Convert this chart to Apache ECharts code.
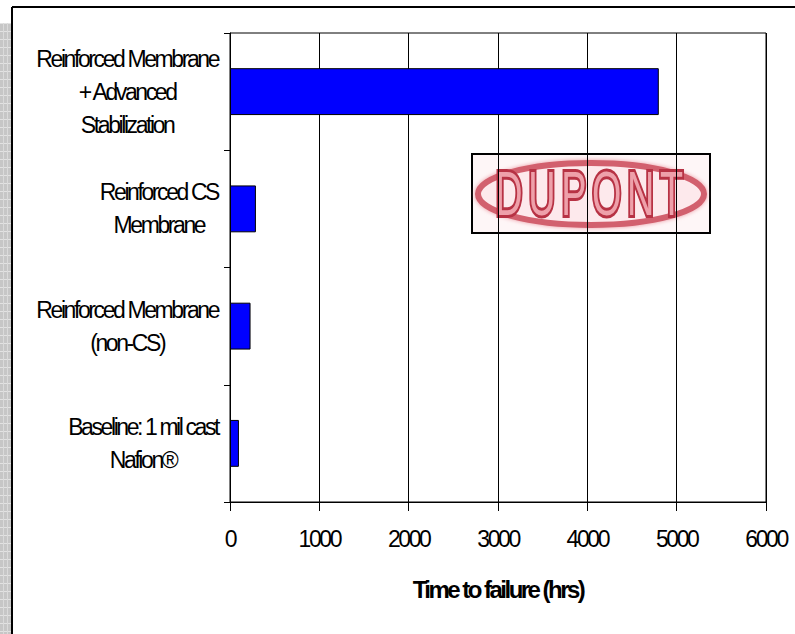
<!DOCTYPE html>
<html>
<head>
<meta charset="utf-8">
<script src="https://cdn.jsdelivr.net/npm/echarts@6/dist/echarts.min.js"></script>
<style>
  html, body { margin: 0; padding: 0; background: #fff; }
  #chart { width: 795px; height: 634px; }
</style>
</head>
<body>
<div id="chart"></div>
<script>
// Membrane durability: time to failure per membrane type (bottom to top)
const categories = [
  'Baseline: 1 mil cast\nNafion®',
  'Reinforced Membrane\n(non-CS)',
  'Reinforced CS\nMembrane',
  'Reinforced Membrane\n+ Advanced\nStabilization'
];
const hoursToFailure = [100, 230, 290, 4800];

// Value axis range and tick step
const xMin = 0;
const xMax = 6000;
const xStep = 1000;
const xTitle = 'Time to failure (hrs)';
const logoText = 'DUPONT';

// Tight tracking used for the chart labels (em units)
const TRACK = -0.105;
const FONT = '"Liberation Sans", Arial, sans-serif';
const LOGO_SIZE = 63;

const css = document.createElement('style');
css.textContent =
  '#chart text { letter-spacing: ' + TRACK + 'em; }' +
  '#chart text[style*="' + LOGO_SIZE + 'px"] { letter-spacing: 0.15em; }';
document.head.appendChild(css);

// Keep text measurement consistent with the tightened tracking
const measureCtx = document.createElement('canvas').getContext('2d');
if (echarts.setPlatformAPI) {
  echarts.setPlatformAPI({
    measureText: function (text, font) {
      measureCtx.font = font || '12px sans-serif';
      const m = /([\d.]+)px/.exec(measureCtx.font);
      const size = m ? parseFloat(m[1]) : 12;
      const s = String(text == null ? '' : text);
      return { width: measureCtx.measureText(s).width + TRACK * size * s.length };
    }
  });
}

const chart = echarts.init(document.getElementById('chart'), null, {
  renderer: 'svg', width: 795, height: 634
});

// Decorative grey strip on the left edge
const strip = [{
  type: 'rect', shape: { x: 0, y: 23, width: 11, height: 611 },
  style: { fill: '#c6c6c6' }, silent: true
}];
for (let y = 23; y < 634; y += 8) {
  strip.push({ type: 'line', shape: { x1: 0, y1: y + 0.5, x2: 11, y2: y + 0.5 },
    style: { stroke: '#e2e2e2', lineWidth: 1 }, silent: true });
}
[3.5, 7.5].forEach(function (x) {
  strip.push({ type: 'line', shape: { x1: x, y1: 23, x2: x, y2: 634 },
    style: { stroke: '#dadada', lineWidth: 1 }, silent: true });
});

const option = {
  animation: false,
  backgroundColor: '#fff',
  textStyle: { fontFamily: FONT, color: '#000' },
  grid: {
    left: 230, right: 29, top: 33, bottom: 132,
    show: true, borderColor: '#000', borderWidth: 1
  },
  xAxis: {
    type: 'value', min: xMin, max: xMax, interval: xStep,
    name: xTitle, nameLocation: 'middle', nameGap: 77,
    nameTextStyle: { fontSize: 24, fontWeight: 'bold', color: '#000', fontFamily: FONT },
    axisLine: { show: true, lineStyle: { color: '#000', width: 1 } },
    axisTick: { show: true, length: 9, lineStyle: { color: '#000', width: 1 } },
    axisLabel: {
      fontSize: 23, color: '#000', margin: 27, fontFamily: FONT,
      formatter: function (v) { return String(v); }
    },
    splitLine: { show: true, lineStyle: { color: '#000', width: 1 } }
  },
  yAxis: {
    type: 'category', data: categories,
    axisLine: { show: true, lineStyle: { color: '#000', width: 1 } },
    axisTick: { show: true, length: 6, alignWithLabel: false, lineStyle: { color: '#000' } },
    axisLabel: {
      interval: 0, margin: 12,
      formatter: function (v) {
        return v.split('\n').map(function (s) { return '{c|' + s + '}'; }).join('\n');
      },
      rich: { c: { align: 'center', fontSize: 23, lineHeight: 33, color: '#000', fontFamily: FONT } }
    },
    splitLine: { show: false }
  },
  series: [{
    type: 'bar',
    data: hoursToFailure,
    barCategoryGap: '60%',
    itemStyle: { color: '#0000ff', borderColor: '#000', borderWidth: 1 }
  }],
  graphic: strip.concat([
    // outer frame
    { type: 'line', shape: { x1: 12, y1: 7, x2: 795, y2: 7 }, style: { stroke: '#000', lineWidth: 2 }, silent: true },
    { type: 'line', shape: { x1: 12, y1: 7, x2: 12, y2: 634 }, style: { stroke: '#000', lineWidth: 2 }, silent: true },
    // logo box
    {
      type: 'group', x: 472, y: 154, z: 100, silent: true,
      children: [
        { type: 'rect', shape: { x: 0, y: 0, width: 238, height: 79 },
          style: { fill: '#fef6f7', stroke: '#000', lineWidth: 2 } },
        { type: 'ellipse', shape: { cx: 119, cy: 40, rx: 113, ry: 31 },
          style: { fill: '#fde9ec', stroke: '#d2606e', lineWidth: 6, shadowBlur: 4, shadowColor: '#ec98a2' } },
        { type: 'text', x: 120, y: 39, scaleX: 0.6,
          style: { text: logoText, fontSize: LOGO_SIZE, fontFamily: FONT,
            fill: '#eea0aa', stroke: '#b73244', lineWidth: 6,
            align: 'center', verticalAlign: 'middle',
            shadowBlur: 3, shadowColor: '#e07a88' } }
      ]
    }
  ])
};

chart.setOption(option);
</script>
</body>
</html>
